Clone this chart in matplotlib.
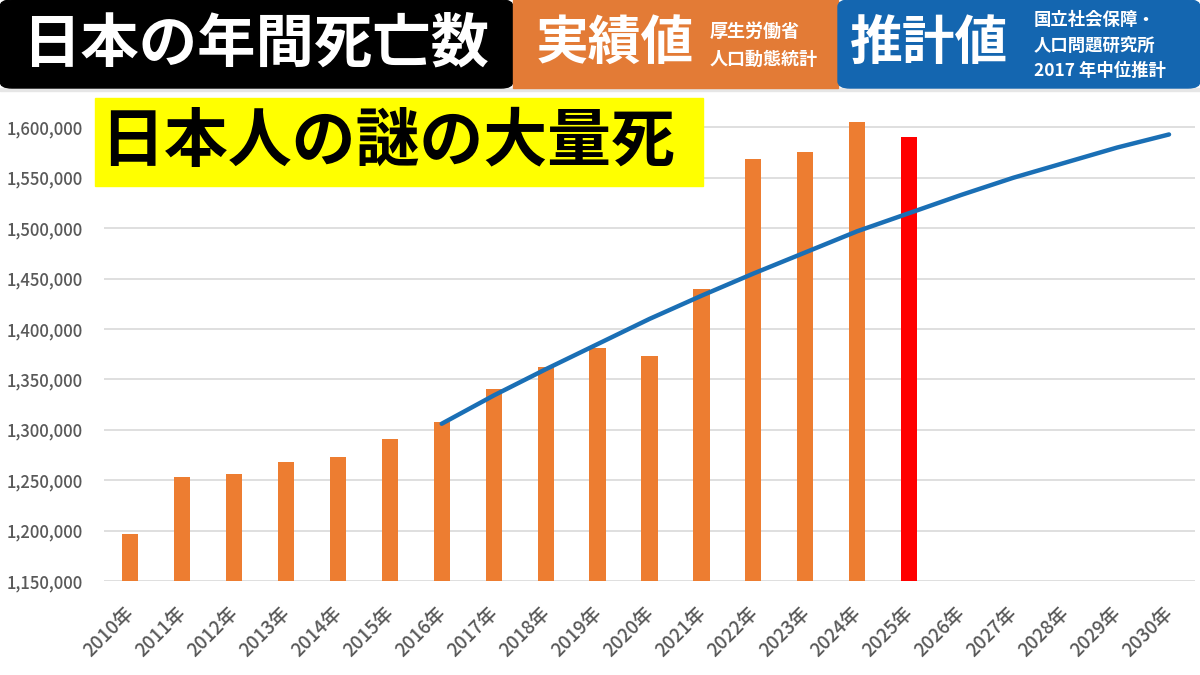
import matplotlib
matplotlib.use("Agg")
import matplotlib.pyplot as plt
from matplotlib.patches import Rectangle, FancyBboxPatch
from matplotlib.ticker import FuncFormatter
from matplotlib.transforms import ScaledTranslation

plt.rcParams['font.family'] = ['Noto Sans CJK JP', 'DejaVu Sans']

# data
years = [f"{y}年" for y in range(2010, 2031)]
actual = [1197012, 1253066, 1256359, 1268438, 1273004, 1290444, 1307748,
          1340397, 1362470, 1381093, 1372755, 1439856, 1569050, 1576016,
          1605298]
est_2025 = 1590000
proj_start = 6  # 2016年
projection = [1306000, 1334000, 1360000, 1385000, 1410000, 1433000, 1455000,
              1476000, 1497000, 1515000, 1533000, 1550000, 1565000, 1580000,
              1593000]

W, H = 1200, 675
fig = plt.figure(figsize=(12, 6.75), dpi=100)


def fx(px):
    return px / W


def fy(py):
    return 1 - py / H


ax = fig.add_axes([fx(104), fy(581), fx(1195) - fx(104), fy(77) - fy(581)])
ax.set_ylim(1150000, 1650000)
ax.set_xlim(-0.5, len(years) - 0.5)
ax.set_yticks(range(1150000, 1600001, 50000))
ax.yaxis.set_major_formatter(FuncFormatter(lambda v, p: f"{int(v):,}"))
ax.grid(axis='y', color='#d9d9d9', linewidth=1.2)
ax.axhline(1650000, color='#d9d9d9', linewidth=1.2, zorder=0)
ax.set_axisbelow(True)
for s in ax.spines.values():
    s.set_visible(False)
ax.tick_params(length=0, colors='#595959')
ax.tick_params(axis='y', pad=15, labelsize=12)
for lab in ax.get_yticklabels():
    lab.set_fontweight('medium')

xs = list(range(len(years)))
ax.bar(xs[:len(actual)], [v - 1150000 for v in actual], bottom=1150000,
       width=0.31, color='#ed7d31')
ax.bar(len(actual), est_2025 - 1150000, bottom=1150000, width=0.31,
       color='#ff0000')
ax.plot(xs[proj_start:proj_start + len(projection)], projection,
        color='#1a6fb5', linewidth=3.2, solid_capstyle='round')

ax.set_xticks(xs)
ax.set_xticklabels(years, rotation=45, ha='right', va='top',
                   rotation_mode='anchor', fontsize=13.5, fontweight='medium')
ax.tick_params(axis='x', pad=16)
for lab in ax.get_xticklabels():
    lab.set_transform(lab.get_transform() +
                      ScaledTranslation(-0.06, 0, fig.dpi_scale_trans))

# header bands
fig.patches.append(FancyBboxPatch((fx(0), fy(88)), fx(513), fy(0) - fy(88),
                                  boxstyle="round,pad=0,rounding_size=0.01",
                                  transform=fig.transFigure, color='#000000',
                                  zorder=5))
fig.patches.append(Rectangle((fx(513), fy(88)), fx(838) - fx(513), fy(0) - fy(88),
                             transform=fig.transFigure, color='#e37b36', zorder=5))
fig.patches.append(FancyBboxPatch((fx(838), fy(88)), fx(1200) - fx(838), fy(0) - fy(88),
                                  boxstyle="round,pad=0,rounding_size=0.01",
                                  transform=fig.transFigure, color='#1466b0',
                                  zorder=5))
fig.patches.append(Rectangle((fx(0), fy(91)), fx(1200), fy(88) - fy(91),
                             transform=fig.transFigure, color='#e6e6e6', zorder=4))

fig.text(fx(22), fy(44), "日本の年間死亡数", color='white', fontsize=42,
         fontweight='bold', va='center', ha='left', zorder=6)
fig.text(fx(536), fy(44), "実績値", color='white', fontsize=38,
         fontweight='bold', va='center', ha='left', zorder=6)
fig.text(fx(710), fy(31), "厚生労働省", color='white', fontsize=13,
         fontweight='bold', va='center', ha='left', zorder=6)
fig.text(fx(710), fy(59), "人口動態統計", color='white', fontsize=13,
         fontweight='bold', va='center', ha='left', zorder=6)
fig.text(fx(850), fy(44), "推計値", color='white', fontsize=38,
         fontweight='bold', va='center', ha='left', zorder=6)
for txt, yy in [("国立社会保障・", 20), ("人口問題研究所", 46), ("2017 年中位推計", 71)]:
    fig.text(fx(1034), fy(yy), txt, color='white', fontsize=12.5,
             fontweight='bold', va='center', ha='left', zorder=6)

# yellow title
fig.patches.append(Rectangle((fx(95), fy(186)), fx(703) - fx(95), fy(98) - fy(186),
                             transform=fig.transFigure, color='#ffff00', zorder=5))
fig.text(fx(100), fy(142), "日本人の謎の大量死", color='black', fontsize=46,
         fontweight='bold', va='center', ha='left', zorder=6)

fig.savefig("out.png", dpi=100)
